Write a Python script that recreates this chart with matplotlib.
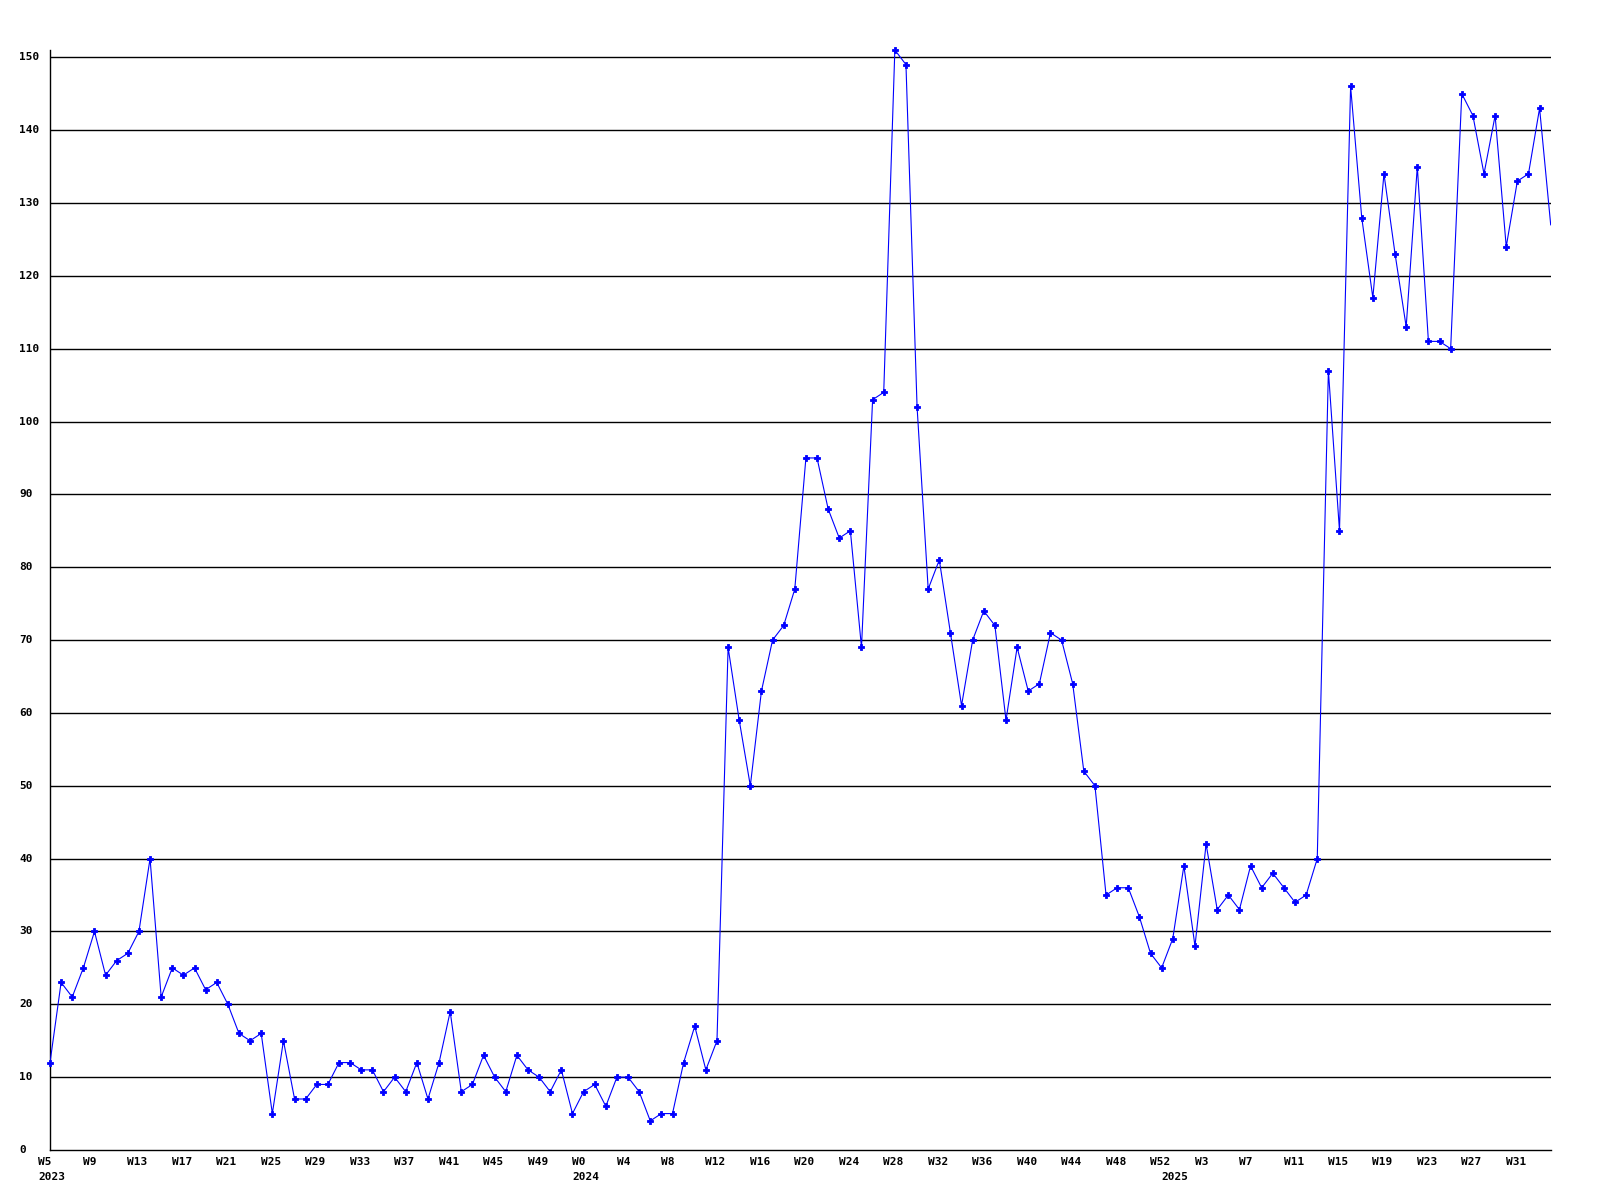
import numpy as np
import matplotlib
matplotlib.use("Agg")
import matplotlib.pyplot as plt
import matplotlib.transforms as mtransforms

####### weekly values, W5 2023 .. W34 2025
valores = [12, 23, 21, 25, 30, 24, 26, 27, 30, 40, 21, 25, 24, 25, 22, 23,
           20, 16, 15, 16, 5, 15, 7, 7, 9, 9, 12, 12, 11, 11, 8, 10,
           8, 12, 7, 12, 19, 8, 9, 13, 10, 8, 13, 11, 10, 8, 11, 5,
           8, 9, 6, 10, 10, 8, 4, 5, 5, 12, 17, 11, 15,
           69, 59, 50, 63, 70, 72, 77, 95, 95, 88, 84, 85, 69, 103, 104, 151,
           149, 102, 77, 81, 71, 61, 70, 74, 72, 59, 69, 63, 64, 71, 70, 64,
           52, 50, 35, 36, 36, 32, 27, 25, 29, 39, 28, 42, 33, 35, 33, 39,
           36, 38, 36, 34, 35, 40,
           107, 85, 146, 128, 117, 134, 123, 113, 135, 111, 111, 110, 145, 142, 134, 142,
           124, 133, 134, 143, 127]

semanas = ["W5", "W9", "W13", "W17", "W21", "W25", "W29", "W33", "W37", "W41",
           "W45", "W49", "W0", "W4", "W8", "W12", "W16", "W20", "W24", "W28",
           "W32", "W36", "W40", "W44", "W48", "W52", "W3", "W7", "W11", "W15",
           "W19", "W23", "W27", "W31"]

anios = ["2023", "2024", "2025"]
anios_pos = [0, 48, 101]

yticks = list(range(0, 151, 10))

x = np.arange(len(valores))

######## figura
fig = plt.figure(figsize=(16, 12), dpi=100)
W, H = 1600.0, 1200.0
ax = fig.add_axes([50/W, 1 - 1150/H, (1550.7 - 50)/W, (1150 - 50)/H])

fuente = dict(family="DejaVu Sans Mono", weight="bold", size=8)

# lineas horizontales
for v in yticks[1:]:
    ax.axhline(v, color="black", lw=1.0, zorder=1)

ax.plot(x, valores, color="#0000ff", lw=0.8, zorder=3)
ax.plot(x[:-1], valores[:-1], ls="none", marker="P", ms=4.0, color="#0000ff",
        markeredgewidth=0.6, clip_on=False, zorder=4)

ax.set_xlim(0, len(valores) - 1)
ax.set_ylim(0, 151)

for lado in ["top", "right"]:
    ax.spines[lado].set_visible(False)
for lado in ["left", "bottom"]:
    ax.spines[lado].set_color("black")
    ax.spines[lado].set_linewidth(1.0)

ax.tick_params(length=0, pad=0)

######## etiquetas eje x
ax.set_xticks(x[::4][:len(semanas)])
ax.set_xticklabels(semanas, **fuente)
off_x = mtransforms.ScaledTranslation(-11.5/100, -12/100, fig.dpi_scale_trans)
for lab in ax.get_xticklabels():
    lab.set_horizontalalignment("left")
    lab.set_verticalalignment("center")
    lab.set_transform(lab.get_transform() + off_x)

trans_anio = mtransforms.blended_transform_factory(ax.transData, ax.transAxes) + \
    mtransforms.ScaledTranslation(-11.5/100, -27/100, fig.dpi_scale_trans)
for a, p in zip(anios, anios_pos):
    ax.text(p, 0, a, transform=trans_anio, ha="left", va="center", **fuente)

######## etiquetas eje y
ax.set_yticks(yticks)
ax.set_yticklabels([str(v) for v in yticks], **fuente)
off_y = mtransforms.ScaledTranslation(-30.5/100, 0, fig.dpi_scale_trans)
for lab in ax.get_yticklabels():
    lab.set_horizontalalignment("left")
    lab.set_verticalalignment("center")
    lab.set_transform(lab.get_transform() + off_y)

fig.savefig("out.png", dpi=100, facecolor="white")
